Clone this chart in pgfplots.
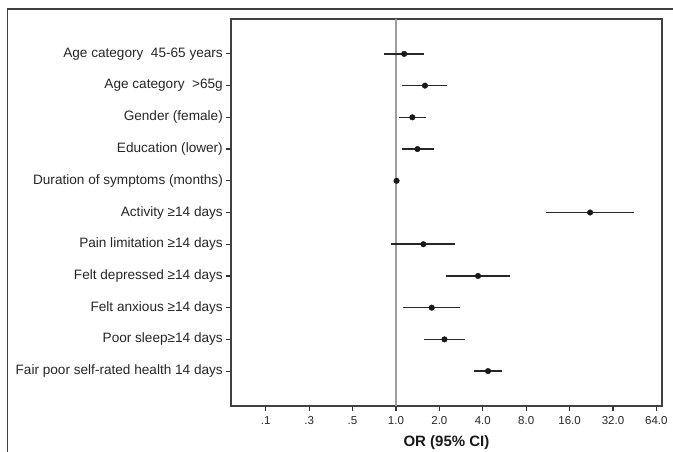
\documentclass[border=0pt]{standalone}
\usepackage{fontspec}
\setmainfont{Liberation Sans}
\usepackage{pgfplots}
\pgfplotsset{compat=1.18}
\begin{document}
\begin{tikzpicture}[x=1pt,y=1pt]
\useasboundingbox (0,0) rectangle (673,452);
\draw[line width=1.1pt, black!75] (7.5,0) -- (7.5,443) -- (673,443);
\begin{axis}[at={(231pt,46pt)}, anchor=south west, scale only axis,
  width=431pt, height=387pt,
  xmode=log, log basis x=2, xmin=0.0718, xmax=70,
  ymin=-0.1, ymax=12.1, y dir=reverse,
  xtick={0.125,0.25,0.5,1,2,4,8,16,32,64},
  xticklabels={.1,.3,.5,1.0,2.0,4.0,8.0,16.0,32.0,64.0},
  ytick={1,2,3,4,5,6,7,8,9,10,11},
  yticklabels={Age category\ \ 45-65 years, Age category\ \ >65g, Gender (female), Education (lower), Duration of symptoms (months), Activity ≥14 days, Pain limitation ≥14 days, Felt depressed ≥14 days, Felt anxious ≥14 days, Poor sleep≥14 days, Fair poor self-rated health 14 days},
  tick align=outside, major tick length=5pt,
  tick style={black!80, line width=1.2pt},
  xtick pos=bottom, ytick pos=left,
  axis line style={black!75, line width=1.1pt},
  xticklabel style={font=\fontsize{11.5}{13}\selectfont, text=black!85, yshift=-2pt},
  yticklabel style={font=\fontsize{13.6}{15}\selectfont, text=black!85, inner sep=3pt},
  xlabel={\bfseries OR (95\% CI)},
  xlabel style={font=\fontsize{15}{17}\selectfont, text=black!90, yshift=-4pt},
  clip=false,
]
\addplot[gray!75, line width=2pt] coordinates {(1,-0.1) (1,12.1)};
\addplot[black!85, line width=1.6pt, unbounded coords=jump] coordinates {
(0.83,1) (1.57,1) (nan,nan)
(1.11,2) (2.27,2) (nan,nan)
(1.05,3) (1.61,3) (nan,nan)
(1.11,4) (1.83,4) (nan,nan)
(0.99,5) (1.03,5) (nan,nan)
(11.0,6) (44.7,6) (nan,nan)
(0.93,7) (2.57,7) (nan,nan)
(2.23,8) (6.19,8) (nan,nan)
(1.12,9) (2.77,9) (nan,nan)
(1.57,10) (3.01,10) (nan,nan)
(3.48,11) (5.43,11)
};
\addplot[only marks, mark=*, mark size=2.8pt, black!90] coordinates {
(1.14,1) (1.59,2) (1.30,3) (1.41,4) (1.01,5) (22.2,6) (1.55,7) (3.71,8) (1.77,9) (2.17,10) (4.35,11)
};
\end{axis}
\end{tikzpicture}
\end{document}
